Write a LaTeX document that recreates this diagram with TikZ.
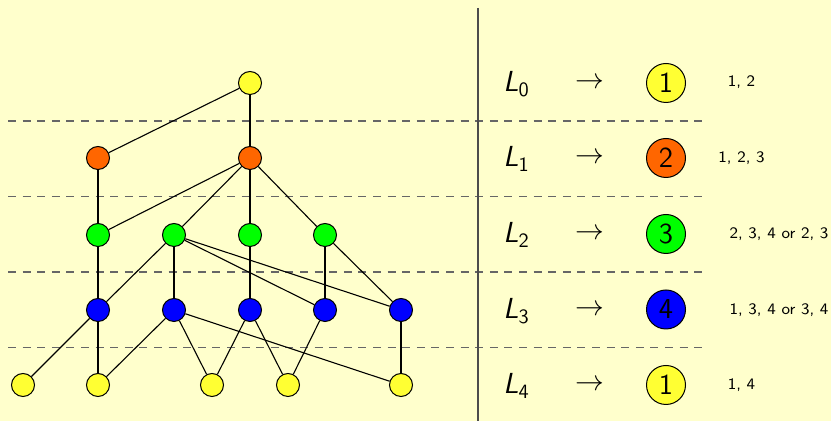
\documentclass[tikz,border=0pt]{standalone}
\renewcommand\familydefault{\sfdefault}
\definecolor{bg}{RGB}{255,255,204}
\definecolor{cyel}{RGB}{255,255,51}
\definecolor{corg}{RGB}{255,102,0}
\definecolor{cgrn}{RGB}{0,255,0}
\definecolor{cblu}{RGB}{0,0,255}
\tikzset{
  v/.style={circle,draw=black,line width=0.5pt,minimum size=11.5pt,inner sep=0pt},
  big/.style={circle,draw=black,line width=0.5pt,minimum size=19.5pt,inner sep=0pt,font=\fontsize{14.5}{17}\selectfont},
  lev/.style={font=\fontsize{14.5}{17}\selectfont,anchor=base west,inner sep=0pt},
  arr/.style={font=\fontsize{14.5}{17}\selectfont,anchor=base,inner sep=0pt},
  note/.style={font=\fontsize{8}{9}\selectfont,inner sep=0pt},
  edge/.style={line width=0.55pt,black},
  sep/.style={line width=0.7pt,black!60,dash pattern=on 4pt off 3.3pt},
}
\begin{document}
\begin{tikzpicture}[x=0.5pt,y=-0.5pt]
\fill[bg] (0,0) rectangle (831,421);
\useasboundingbox (0,0) rectangle (831,421);
% separators
\foreach \yy in {121,196.5,272,347.5} \draw[sep] (8,\yy) -- (702,\yy);
\coordinate (vt) at (478,8);
\coordinate (vb) at (478,421);
\draw[line width=0.6pt,black!70] (vt) -- (vb);
% graph nodes
\node[v,fill=cyel] (a0) at (250,83) {};
\node[v,fill=corg] (b1) at (98,158) {};
\node[v,fill=corg] (b2) at (250,158) {};
\node[v,fill=cgrn] (c1) at (98,235) {};
\node[v,fill=cgrn] (c2) at (174,235) {};
\node[v,fill=cgrn] (c3) at (250,235) {};
\node[v,fill=cgrn] (c4) at (325,235) {};
\node[v,fill=cblu] (d1) at (98,310) {};
\node[v,fill=cblu] (d2) at (174,310) {};
\node[v,fill=cblu] (d3) at (250,310) {};
\node[v,fill=cblu] (d4) at (325,310) {};
\node[v,fill=cblu] (d5) at (401,310) {};
\node[v,fill=cyel] (e1) at (23,385) {};
\node[v,fill=cyel] (e2) at (98,385) {};
\node[v,fill=cyel] (e3) at (212,385) {};
\node[v,fill=cyel] (e4) at (288,385) {};
\node[v,fill=cyel] (e5) at (401,385) {};
% edges
\foreach \s/\t in {a0/b1,a0/b2,b1/c1,b2/c1,b2/c2,b2/c3,b2/c4,
  c1/d1,c2/d1,c2/d2,c2/d4,c2/d5,c3/d3,c4/d4,c4/d5,
  d1/e1,d1/e2,d2/e2,d2/e3,d2/e5,d3/e3,d3/e4,d4/e4,d5/e5}
  \draw[edge] (\s) -- (\t);
% right column
\foreach \i/\yy in {0/83,1/158,2/234,3/310,4/385}{
  \node[lev] (l\i) at (503,\yy+9) {\textsl{L}\textsubscript{\i}};
  \node[arr] (r\i) at (590,\yy+6) {$\rightarrow$};
}
\node[big,fill=cyel] (k0) at (666,83) {1};
\node[big,fill=corg] (k1) at (666,158) {2};
\node[big,fill=cgrn] (k2) at (666,234) {3};
\node[big,fill=cblu] (k3) at (666,309.5) {4};
\node[big,fill=cyel] (k4) at (666,385) {1};
\node[note] (n0) at (741.5,82) {1, 2};
\node[note] (n1) at (741.5,158) {1, 2, 3};
\node[note] (n2) at (779,234) {2, 3, 4 or 2, 3};
\node[note] (n3) at (779,310) {1, 3, 4 or 3, 4};
\node[note] (n4) at (741.5,385) {1, 4};
\end{tikzpicture}
\end{document}
